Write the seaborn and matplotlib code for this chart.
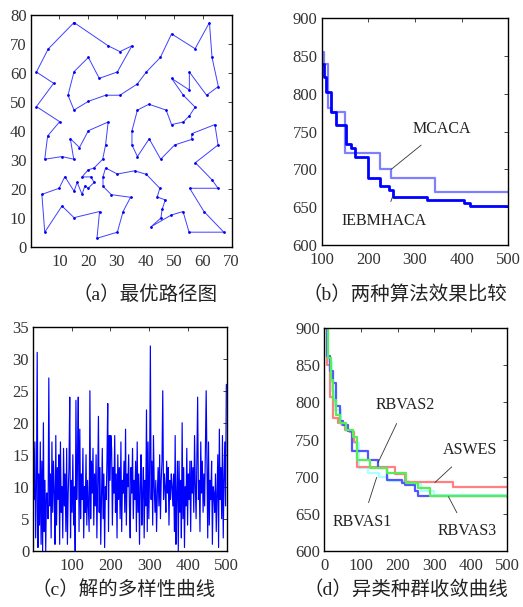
import matplotlib
matplotlib.use("Agg")
import matplotlib.pyplot as plt
import numpy as np
import seaborn as sns

# ─── (a) best tour ───
tour_x = [15.1, 6.1, 2.0, 8.0, 2.0, 10.1, 5.9, 4.9, 10.9, 15.0, 13.8, 17.0, 20.1, 27.0, 26.1, 25.1,
          22.1, 20.0, 17.9, 21.0, 22.1, 20.0, 18.9, 17.9, 16.2, 15.1, 11.9, 9.9, 3.9, 4.9, 10.9, 15.1,
          24.0, 23.1, 30.2, 32.2, 34.8, 28.1, 25.2, 25.2, 26.1, 30.2, 36.2, 40.3, 45.0, 44.1, 46.9, 45.8,
          45.4, 42.0, 49.0, 53.1, 55.2, 67.3, 60.4, 55.4, 65.3, 63.2, 57.4, 65.3, 64.2, 56.2, 56.1, 50.2,
          45.3, 41.3, 37.2, 35.3, 35.3, 37.2, 41.2, 47.2, 49.1, 53.2, 55.3, 57.3, 53.2, 49.1, 55.3, 55.3,
          61.3, 65.4, 63.2, 62.3, 57.3, 49.1, 45.2, 40.3, 37.2, 31.1, 26.1, 20.1, 15.1, 13.0, 15.1, 20.1,
          23.9, 30.2, 35.3, 31.1, 27.0, 15.1]
tour_y = [77.3, 68.2, 60.3, 56.4, 48.4, 43.2, 38.3, 30.3, 31.2, 30.3, 37.4, 34.3, 40.1, 43.1, 35.2, 30.3,
          27.3, 26.6, 24.2, 24.2, 22.3, 20.3, 21.2, 18.2, 22.3, 19.3, 24.3, 20.3, 18.2, 5.2, 14.2, 10.2,
          12.3, 3.1, 5.2, 12.3, 17.2, 18.1, 21.0, 24.3, 27.3, 25.2, 26.3, 25.1, 20.3, 17.3, 16.3, 13.0,
          10.1, 7.1, 11.1, 12.3, 5.2, 5.2, 12.3, 20.3, 20.3, 23.2, 29.1, 35.2, 42.2, 39.1, 37.1, 35.2,
          30.3, 37.3, 31.2, 35.2, 40.1, 47.2, 49.2, 47.2, 42.2, 43.1, 45.2, 48.2, 52.3, 58.1, 54.1, 60.3,
          52.3, 55.3, 65.3, 77.3, 68.3, 73.4, 65.3, 60.3, 56.2, 52.3, 52.3, 50.2, 47.2, 52.3, 60.4, 65.3,
          58.1, 60.3, 69.3, 67.3, 69.3, 77.3]

# ─── (b) two algorithms ───
ieb_x = [100, 106, 110, 121, 130, 152, 162, 171, 200, 226, 245, 254, 326, 405, 418, 500]
ieb_y = [840, 822, 803, 776, 759, 734, 728, 716, 688, 678, 673, 664, 660, 655, 652, 652]
mca_x = [100, 105, 113, 121, 150, 225, 249, 344, 500]
mca_y = [856, 840, 781, 776, 722, 701, 688, 670, 670]

# ─── (c) diversity (every 2nd iteration) ───
div_vals = [
    18, 8, 17, 2, 10, 31, 0.5, 12, 4, 17,
    1, 14, 0, 20, 3, 11, 0, 9, 9, 5,
    27, 7, 12, 2, 17, 6, 14, 9, 1, 18,
    4, 13, 8, 15, 1, 17, 6, 10, 2, 16,
    7, 12, 3, 16, 1, 9, 13, 24, 2, 11,
    6, 15, 4, 10, 0, 23.5, 8, 14, 24, 3,
    19, 5, 12, 8, 16, 2, 10, 6, 15, 4,
    11, 7, 3, 25, 5, 14, 9, 16, 4, 12,
    7, 15, 2, 10, 21, 6, 13, 1, 9, 16,
    5, 12, 0.5, 10, 8, 14, 23, 3, 18, 11,
    18, 16, 4, 13, 9, 18, 6, 12, 2, 15,
    8, 13, 5, 17, 3, 11, 9, 14, 6, 19,
    4, 12, 10, 15, 7, 2, 13, 9, 16, 5,
    11, 8, 14, 3, 17, 6, 12, 1, 10, 15,
    4, 9, 13, 2, 11, 7, 22, 3, 17, 5,
    12, 32, 8, 14, 4, 18, 10, 6, 11, 3,
    9, 13, 7, 15, 5, 11, 14, 25, 8, 12,
    10, 6, 14, 9, 13, 4, 11, 8, 12, 10,
    7, 12, 3, 18, 1, 9, 14, 0, 14, 6,
    11, 2, 20, 5, 13, 0.5, 10, 7, 16, 4,
    12, 8, 14, 3, 14, 9, 13, 6, 18, 10,
    5, 15, 24, 8, 11, 3, 17, 9, 14, 6,
    12, 7, 16, 25, 13, 2, 17, 4, 11, 8,
    14, 1, 10, 9, 6, 12, 3, 9, 15, 0.5,
    19, 8, 13, 5, 18, 2, 11, 17, 7, 26,
]
div_iter = np.arange(1, 2 * len(div_vals), 2)

# ─── (d) heterogeneous populations ───
aswes_x = [3, 8, 15, 25, 38, 47, 56, 70, 80, 88, 193, 220, 352, 500]
aswes_y = [900, 850, 808, 779, 772, 770, 763, 760, 747, 713, 704, 693, 686, 686]
rb1_x = [3, 10, 20, 30, 45, 60, 80, 95, 120, 150, 175, 230, 265, 300, 500]
rb1_y = [900, 855, 815, 790, 770, 762, 745, 712, 705, 700, 694, 690, 680, 675, 673]
rb2_x = [3, 8, 15, 25, 33, 43, 52, 66, 75, 120, 147, 170, 211, 220, 248, 257, 500]
rb2_y = [900, 862, 843, 826, 795, 775, 770, 761, 735, 722, 711, 695, 692, 688, 680, 674, 674]
rb3_x = [3, 10, 18, 25, 32, 43, 60, 78, 90, 125, 170, 222, 255, 290, 500]
rb3_y = [900, 860, 830, 803, 783, 772, 763, 754, 722, 711, 705, 692, 684, 674, 673]

captions = ["（a）最优路径图", "（b）两种算法效果比较", "（c）解的多样性曲线", "（d）异类种群收敛曲线"]

sns.set_style("white")
plt.rcParams["font.family"] = ["Liberation Serif", "Noto Sans CJK SC"]
TICK_COLOR = "#333333"


def style_ax(ax):
    for s in ax.spines.values():
        s.set_color("black")
        s.set_linewidth(1.0)
    ax.tick_params(direction="in", top=True, right=True, length=3, width=0.6,
                   labelsize=12, labelcolor=TICK_COLOR, pad=3)
    ax.tick_params(axis="x", pad=5)


def note(ax, text, xy, xytext):
    ax.annotate(text, xy=xy, xytext=xytext, fontsize=11.5, color="#222222",
                ha="center", va="center",
                arrowprops=dict(arrowstyle="-", color="#333333", lw=0.6, shrinkA=6, shrinkB=0))


fig = plt.figure(figsize=(5.23, 6.07), dpi=100)
ax_a = fig.add_axes([0.0587, 0.5926, 0.384, 0.3832])
ax_b = fig.add_axes([0.615, 0.5964, 0.3568, 0.3735])
ax_c = fig.add_axes([0.0637, 0.0927, 0.3698, 0.369])
ax_d = fig.add_axes([0.6201, 0.0927, 0.350, 0.3664])

# (a)
sns.lineplot(x=tour_x, y=tour_y, sort=False, estimator=None, ax=ax_a, color="#4040ff",
             lw=0.7, marker="o", markersize=2.0, markeredgewidth=0, markerfacecolor="#0000ee")
ax_a.set_xlim(0, 70)
ax_a.set_ylim(0, 80)
ax_a.set_xticks([10, 20, 30, 40, 50, 60, 70])
ax_a.set_yticks(range(0, 81, 10))
style_ax(ax_a)

# (b)
sns.lineplot(x=mca_x, y=mca_y, ax=ax_b, drawstyle="steps-post", color="#7f7fff", lw=1.6,
             estimator=None)
sns.lineplot(x=ieb_x, y=ieb_y, ax=ax_b, drawstyle="steps-post", color="#0000ff", lw=2.0,
             estimator=None)
ax_b.set_xlim(100, 500)
ax_b.set_ylim(600, 900)
ax_b.set_xticks(range(100, 501, 100))
ax_b.set_yticks(range(600, 901, 50))
note(ax_b, "MCACA", xy=(249, 700), xytext=(357, 754))
note(ax_b, "IEBMHACA", xy=(252, 664), xytext=(234, 632))
style_ax(ax_b)

# (c)
sns.lineplot(x=div_iter, y=div_vals, ax=ax_c, color="#0000ff", lw=0.85, estimator=None)
ax_c.set_xlim(1, 500)
ax_c.set_ylim(0, 35)
ax_c.set_xticks(range(100, 501, 100))
ax_c.set_yticks(range(0, 36, 5))
style_ax(ax_c)

# (d)
sns.lineplot(x=rb1_x, y=rb1_y, ax=ax_d, drawstyle="steps-post", color="#aaffff", lw=1.6, estimator=None)
sns.lineplot(x=aswes_x, y=aswes_y, ax=ax_d, drawstyle="steps-post", color="#ff8080", lw=1.6, estimator=None)
sns.lineplot(x=rb2_x, y=rb2_y, ax=ax_d, drawstyle="steps-post", color="#5555ff", lw=1.6, estimator=None)
sns.lineplot(x=rb3_x, y=rb3_y, ax=ax_d, drawstyle="steps-post", color="#55ee55", lw=1.6, estimator=None)
ax_d.set_xlim(0, 500)
ax_d.set_ylim(600, 900)
ax_d.set_xticks(range(0, 501, 100))
ax_d.set_yticks(range(600, 901, 50))
note(ax_d, "RBVAS2", xy=(147, 719), xytext=(222, 797))
note(ax_d, "ASWES", xy=(302, 692), xytext=(398, 736))
note(ax_d, "RBVAS1", xy=(143, 699), xytext=(104, 639))
note(ax_d, "RBVAS3", xy=(339, 673), xytext=(389, 626))
style_ax(ax_d)

cap_pos = [(0.277, 0.514), (0.774, 0.514), (0.237, 0.028), (0.776, 0.028)]
for (cx, cy), txt in zip(cap_pos, captions):
    fig.text(cx, cy, txt, ha="center", va="center", fontsize=14, color="#222222",
             family=["Liberation Serif", "Noto Sans CJK SC"])

fig.savefig("out.png", dpi=100)
